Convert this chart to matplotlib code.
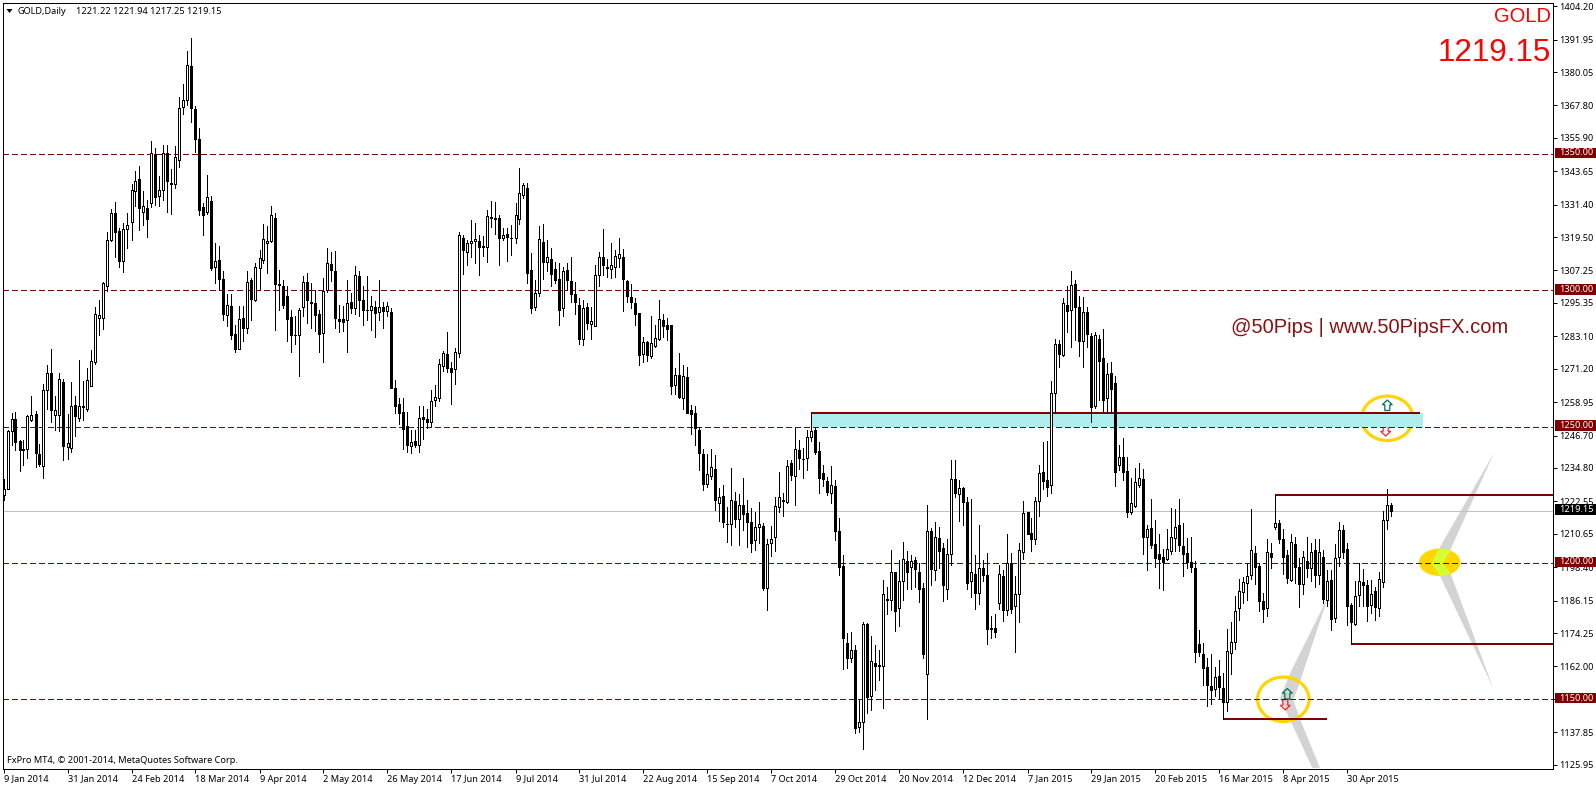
import matplotlib
matplotlib.use("Agg")
import matplotlib.pyplot as plt
from matplotlib.patches import Ellipse, Polygon, Rectangle
from matplotlib.transforms import blended_transform_factory

plt.rcParams['font.family'] = ['Noto Sans', 'DejaVu Sans']

opens = [
    1225, 1226.9, 1248.5, 1252.6, 1244.6, 1241.9, 1241.9, 1252.3, 1254.5, 1239.8,
    1235.6, 1263.3, 1269.5, 1254.3, 1254.3, 1266.5, 1242.5, 1242.2, 1257.8, 1253.3,
    1257.5, 1256.4, 1264.8, 1273.6, 1289.9, 1289.9, 1301.7, 1318.4, 1328.2, 1321.6,
    1310.8, 1322.6, 1324.9, 1336.4, 1340.8, 1328.6, 1330.2, 1331.9, 1350, 1334.5,
    1336.8, 1350.4, 1339.5, 1339, 1347.7, 1367.1, 1369.7, 1382.4, 1366.6, 1355.5,
    1330.5, 1328.6, 1332.7, 1308.4, 1311.1, 1304.1, 1290.9, 1294.3, 1284, 1278.4,
    1289.9, 1286, 1303.9, 1296.3, 1308, 1311.2, 1317.2, 1318.1, 1326.6, 1302.3,
    1301.7, 1298, 1290.1, 1283.7, 1283.4, 1293.7, 1303, 1295.7, 1295.3, 1291.4,
    1284.3, 1300, 1309.6, 1307.2, 1289.4, 1289.4, 1289.2, 1295.7, 1293.3, 1305.3,
    1296.5, 1292.7, 1292.6, 1293.9, 1291.9, 1293.8, 1292.2, 1292, 1264, 1258.1,
    1255.5, 1250.1, 1243, 1244.6, 1243.3, 1253.4, 1252.7, 1251.7, 1259.7, 1260.5,
    1272.3, 1276.6, 1271.3, 1271.2, 1277.1, 1319.1, 1314.2, 1317.2, 1317.9, 1318,
    1316.2, 1315.7, 1326.8, 1326.5, 1326.5, 1319.2, 1320.6, 1319.2, 1319, 1326.3,
    1334.8, 1337.5, 1307.4, 1294, 1299.1, 1317.6, 1310.5, 1311.4, 1307.7, 1304,
    1293.3, 1307.4, 1303.3, 1298.5, 1294.5, 1282.1, 1293.8, 1287.6, 1287, 1305.5,
    1312.1, 1308.6, 1307.7, 1308.7, 1312, 1312.1, 1303.3, 1297.5, 1295.2, 1291.5,
    1276.7, 1280.9, 1276, 1279.7, 1282.1, 1289.1, 1287.3, 1287.3, 1265.1, 1268.8,
    1260.5, 1268, 1256.2, 1255.1, 1248.9, 1239.8, 1229, 1231.7, 1234.6, 1221.9,
    1224.5, 1214.3, 1214.3, 1222.7, 1216.2, 1221.1, 1218.4, 1214.9, 1208.2, 1213,
    1213.5, 1190.6, 1207.1, 1209.3, 1220.6, 1222.9, 1222.2, 1236.5, 1231.8, 1241.3,
    1238.2, 1238.5, 1246, 1248.7, 1241, 1232.8, 1230.1, 1225.7, 1228.2, 1211.5,
    1198.9, 1170.6, 1165, 1168, 1139.9, 1141.7, 1177.6, 1151.1, 1163.3, 1162.7,
    1162.1, 1186.7, 1186.2, 1196.6, 1183.3, 1193.5, 1200.5, 1198.3, 1201.1, 1196.5,
    1190.7, 1159.1, 1211.6, 1197.4, 1209, 1205.4, 1190.4, 1203.4, 1230.7, 1225.4,
    1227.4, 1222.3, 1193.2, 1196, 1189.1, 1198.1, 1195.6, 1176.1, 1176.1, 1185.1,
    1195.2, 1182.8, 1199.8, 1184, 1188.5, 1204.1, 1218.8, 1210.9, 1208.7, 1222.8,
    1233.2, 1230.4, 1228.5, 1262.2, 1280.2, 1276.2, 1294.6, 1292.7, 1302.3, 1293.8,
    1281.2, 1291.9, 1283.1, 1257.6, 1282, 1275, 1260.6, 1269.6, 1265.9, 1235.9,
    1238.8, 1233.6, 1218.8, 1220.7, 1228.5, 1230.6, 1209.4, 1212.6, 1207, 1203.3,
    1202.2, 1201.5, 1204.3, 1209.1, 1214, 1206.3, 1203.7, 1200.4, 1198.2, 1170.2,
    1166.5, 1161.8, 1154.8, 1153.6, 1158.5, 1154, 1148.9, 1166.9, 1171, 1183.3,
    1189.2, 1192.5, 1195.5, 1203.7, 1198.8, 1186.1, 1183.3, 1203.5, 1213, 1214.5,
    1208.7, 1202.9, 1193.8, 1207, 1198.4, 1192.3, 1200.6, 1198.1, 1204.6, 1195.5,
    1202.3, 1186.5, 1193.8, 1179.6, 1202, 1212, 1205, 1184.6, 1177.7, 1188.2,
    1192.9, 1191.8, 1184.4, 1189.8, 1183.4, 1192.9, 1215.6, 1221.22,
]
closes = [
    1227.2, 1248.3, 1252.6, 1244.4, 1241.3, 1241.4, 1253.8, 1254.4, 1240.3, 1236.2,
    1263.3, 1269.8, 1256, 1255.9, 1267.3, 1242.9, 1243.8, 1257.5, 1253.9, 1257.5,
    1257.3, 1266.9, 1273.9, 1291.1, 1290.8, 1302.6, 1318.3, 1328.2, 1321.5, 1310.8,
    1322.3, 1323.8, 1336.9, 1340.1, 1330, 1330.9, 1326.1, 1350.4, 1334.1, 1336.8,
    1350.4, 1340, 1339, 1348.7, 1366.9, 1369.8, 1382.7, 1366.8, 1355.5, 1329.3,
    1327.5, 1334.2, 1308.3, 1310.7, 1304.1, 1291.1, 1294.7, 1283.4, 1278.4, 1289.4,
    1286.2, 1303.2, 1296.9, 1308.4, 1311.8, 1318.8, 1318.1, 1327.6, 1302.3, 1302.1,
    1294.4, 1289.4, 1283.4, 1283.6, 1292.7, 1303, 1296.3, 1295.2, 1291, 1283.8,
    1299.8, 1310, 1307.3, 1289.7, 1288.8, 1288.2, 1295.3, 1293.3, 1305.6, 1296.5,
    1292.8, 1292.6, 1294.3, 1291.6, 1293.9, 1292.2, 1294.3, 1264.3, 1257.6, 1255,
    1249.1, 1243.3, 1244.5, 1243.1, 1253.1, 1252.8, 1251.6, 1259.2, 1260.8, 1272.8,
    1276.8, 1271.6, 1270.1, 1277.2, 1320.2, 1314.6, 1317.3, 1317.9, 1318.8, 1316,
    1315.7, 1327.2, 1326.5, 1326.1, 1319, 1320.3, 1319.4, 1319, 1327.6, 1335.7,
    1338.7, 1306.5, 1293.6, 1298.9, 1318.8, 1310.5, 1312.1, 1306, 1303.8, 1292.8,
    1307, 1303.6, 1298.7, 1295.7, 1282.1, 1293.4, 1287.9, 1288.6, 1305.5, 1312.1,
    1309.1, 1308.1, 1309.2, 1312.5, 1313.2, 1304.3, 1298, 1295.5, 1291.4, 1276.3,
    1280.9, 1276.3, 1280.5, 1282.4, 1289.3, 1287, 1285.9, 1265, 1268.8, 1260.9,
    1268.4, 1255, 1254.7, 1249.3, 1240.3, 1228.9, 1232.7, 1235.2, 1223, 1224.1,
    1215.1, 1214.1, 1222.9, 1216.2, 1221.1, 1218, 1215, 1207.4, 1213.3, 1214.1,
    1190.7, 1206.8, 1208.7, 1220.9, 1224, 1222.7, 1235.4, 1232.2, 1241.6, 1238.5,
    1238, 1246, 1248.2, 1240.5, 1231.2, 1230.6, 1226.1, 1228.4, 1211.8, 1198.4,
    1172.4, 1165, 1168, 1139.5, 1141.6, 1177.6, 1150.7, 1163.9, 1162.1, 1162.2,
    1188.5, 1186.2, 1196.6, 1182.2, 1193.4, 1201.3, 1196.5, 1200.6, 1197.7, 1190.5,
    1166.7, 1211.6, 1197.8, 1209.5, 1204.5, 1191.7, 1203.3, 1230.7, 1225.7, 1227.3,
    1222.3, 1192.6, 1196.6, 1189.1, 1198.1, 1195.4, 1175.6, 1175.9, 1174.6, 1195.9,
    1182.6, 1199.9, 1183, 1188.5, 1204.6, 1218.2, 1210.7, 1208.7, 1222.8, 1232.8,
    1230.1, 1227.9, 1262.2, 1280.2, 1276.7, 1295.2, 1292.5, 1301.8, 1294, 1281.2,
    1291.9, 1284.1, 1257, 1283.5, 1274.2, 1259.8, 1269.2, 1263.8, 1233.5, 1238.8,
    1233.5, 1218.8, 1221.9, 1229.7, 1231.2, 1209.4, 1212.3, 1206.4, 1201.7, 1201.3,
    1200.2, 1205.1, 1209.6, 1213.2, 1206.5, 1203.4, 1200.2, 1198.4, 1167.2, 1167.2,
    1161.6, 1155, 1153.4, 1158.1, 1154.3, 1149.1, 1167.6, 1171, 1182.4, 1189.7,
    1193, 1195.3, 1204.8, 1198.4, 1185.9, 1183, 1203.9, 1202.3, 1214.5, 1208.7,
    1202.3, 1194.5, 1207.6, 1198.4, 1192.3, 1202.3, 1198.2, 1203.8, 1195.6, 1203.8,
    1186.8, 1193.5, 1179.4, 1201.7, 1212, 1204.1, 1184, 1178.2, 1187.7, 1193.3,
    1192, 1184, 1188.5, 1183.7, 1194, 1215.6, 1221.1, 1219.15,
]
highs = [
    1230.9, 1248.7, 1254.8, 1255.3, 1245, 1245, 1254.4, 1261.1, 1255.6, 1243.5,
    1265.5, 1272.5, 1278.6, 1261.1, 1269.8, 1267.6, 1254.5, 1266.3, 1261.1, 1274.4,
    1266.6, 1271.4, 1278, 1293.8, 1296.4, 1302.9, 1321.4, 1329.7, 1332.3, 1322.7,
    1324.8, 1328.2, 1339.1, 1343.8, 1345.7, 1336.4, 1333.2, 1354.9, 1352.2, 1342,
    1353.3, 1353.1, 1344.5, 1352.8, 1370.9, 1375.5, 1387.9, 1392.4, 1367.7, 1359.5,
    1332, 1342.3, 1334.5, 1317.3, 1316.1, 1306.9, 1298.7, 1298.7, 1287.3, 1294.1,
    1294.1, 1306.9, 1304.5, 1310, 1314.9, 1324.4, 1323.4, 1331, 1328.3, 1307.3,
    1303.9, 1301.4, 1292.8, 1290.4, 1293.5, 1305.1, 1306.3, 1302.6, 1300.2, 1292.8,
    1304.5, 1315.5, 1313.9, 1314.3, 1294.7, 1294.1, 1303.9, 1299, 1308.8, 1306.9,
    1301.4, 1305.3, 1297.7, 1295.9, 1303.6, 1295.5, 1295.5, 1293.5, 1267, 1260.3,
    1260.3, 1255.4, 1248.7, 1248.7, 1257.5, 1257.5, 1256.6, 1263.4, 1265.2, 1274.6,
    1277.8, 1284.6, 1273.8, 1278.7, 1321.4, 1320.3, 1318.5, 1325.9, 1324.6, 1320.3,
    1320, 1329.5, 1332.6, 1332.2, 1327.7, 1322.8, 1323, 1324, 1332, 1344.9,
    1339.3, 1339.3, 1313.6, 1303.8, 1323.4, 1324.4, 1318.5, 1315.4, 1310.5, 1309.9,
    1308.7, 1309.9, 1312.1, 1303.2, 1297.1, 1296.4, 1295.2, 1293.8, 1309.3, 1314.2,
    1322.4, 1311.4, 1317.5, 1314.6, 1319.1, 1315.1, 1303.8, 1302.2, 1297.1, 1291.5,
    1283, 1281.5, 1290.6, 1287.3, 1296.4, 1291.3, 1289.7, 1287.3, 1271.3, 1276.8,
    1272.5, 1271.7, 1257.8, 1257.5, 1249.9, 1241.9, 1240.1, 1241.9, 1239.5, 1227.6,
    1228.4, 1220.5, 1234.8, 1226, 1225.4, 1231, 1222.9, 1220, 1218.8, 1222.4,
    1214.5, 1208.7, 1213.5, 1224, 1233.2, 1225.5, 1237.7, 1237.9, 1249.3, 1245,
    1242, 1248.7, 1255, 1249.9, 1244.4, 1235.9, 1231.6, 1235.5, 1230.4, 1216.3,
    1202.9, 1174.3, 1174.6, 1170, 1149.6, 1178.3, 1177.9, 1173, 1170, 1168.2,
    1193.8, 1191.3, 1204.8, 1196.8, 1201.1, 1207.6, 1204.5, 1202.9, 1202.3, 1200,
    1192.6, 1221.2, 1212.7, 1214.8, 1213.3, 1207.2, 1208.7, 1237.9, 1237.9, 1230.4,
    1227.9, 1224.3, 1223.3, 1202.9, 1213.9, 1201.1, 1203.5, 1180.4, 1181.2, 1199.3,
    1197.4, 1210.6, 1203.5, 1195, 1207.2, 1222.8, 1218.8, 1216.3, 1224.3, 1235.9,
    1244.4, 1244.8, 1266.7, 1282, 1281.8, 1297.1, 1301.6, 1307.2, 1303.8, 1297.7,
    1297.4, 1294, 1284.2, 1284.6, 1283.6, 1285.7, 1273.2, 1273.8, 1268.6, 1243.3,
    1245.7, 1239, 1231.3, 1234.7, 1236.8, 1234.3, 1213.7, 1223.3, 1215.6, 1210.4,
    1204.9, 1212.3, 1220.2, 1219.6, 1223.5, 1214.7, 1209.2, 1209.6, 1200.6, 1175.5,
    1170.6, 1165.1, 1166.7, 1161.8, 1164.2, 1159.6, 1175.7, 1178.2, 1188, 1193.9,
    1194.9, 1200, 1219.9, 1206.1, 1199.8, 1188.9, 1208.7, 1207.2, 1224.7, 1215.7,
    1212.3, 1204.8, 1210.6, 1209.6, 1201.7, 1204.5, 1209.3, 1207.4, 1208.9, 1208.7,
    1204.8, 1197.4, 1197.4, 1207, 1214.9, 1213.9, 1207.2, 1185.2, 1193.2, 1199.9,
    1197.7, 1193.8, 1193.8, 1191.3, 1196.8, 1219.1, 1227.1, 1221.94,
]
lows = [
    1223.2, 1226.9, 1243.1, 1241.3, 1233.7, 1235.8, 1238.5, 1252.1, 1235.2, 1235.6,
    1231.2, 1256.4, 1251.7, 1248.7, 1248.4, 1237.6, 1238, 1240.7, 1246.5, 1252.1,
    1252.3, 1255.8, 1264.8, 1272.9, 1283.5, 1285.7, 1299.8, 1318.2, 1312.3, 1308.6,
    1306.8, 1315.6, 1318.3, 1331, 1322.2, 1323.8, 1319.4, 1330.4, 1331.2, 1330.8,
    1333.2, 1328.6, 1328, 1337.4, 1345.2, 1364.6, 1368, 1361.6, 1350.6, 1327.5,
    1320.1, 1328.1, 1307.5, 1302.6, 1300.2, 1288.9, 1286.7, 1282.1, 1277.5, 1278.4,
    1281.2, 1284.3, 1289.2, 1295.9, 1300.4, 1310, 1306.3, 1317.6, 1285.5, 1292.8,
    1293.5, 1281.5, 1277.2, 1280.4, 1268.4, 1290.4, 1288, 1286.1, 1284.9, 1277.2,
    1273.5, 1299.2, 1303.5, 1286.1, 1284.5, 1285.2, 1277.2, 1291.6, 1291.4, 1290.4,
    1287.3, 1288.9, 1285.5, 1283, 1289.2, 1286.1, 1290.4, 1264, 1255.1, 1250.9,
    1241.9, 1240.7, 1240.3, 1242.5, 1240.7, 1245.3, 1249.3, 1250.1, 1257.5, 1259.3,
    1270.5, 1269.9, 1258.2, 1265.6, 1275.6, 1306, 1309.3, 1312.1, 1309.9, 1305.6,
    1312.4, 1310.2, 1323.2, 1320.7, 1309.1, 1318.3, 1310.9, 1313, 1317.5, 1324.4,
    1333.7, 1302.8, 1291.8, 1292.8, 1297.7, 1304.2, 1307.2, 1301.7, 1302.8, 1287.3,
    1290.6, 1300.1, 1295.8, 1291.3, 1280.1, 1279.9, 1285.7, 1282.1, 1287, 1301.6,
    1305.6, 1304.8, 1304.4, 1305, 1308.7, 1292.2, 1295.5, 1293.4, 1287.3, 1272.5,
    1273.8, 1274.1, 1275, 1279.3, 1281.7, 1283, 1281.7, 1261.9, 1261.9, 1260.3,
    1256.6, 1254.8, 1247.4, 1243.1, 1233.9, 1226.8, 1227.8, 1230.9, 1219.2, 1215.3,
    1213.1, 1207.6, 1206.4, 1213.1, 1206.4, 1211.9, 1205.8, 1204.1, 1204.8, 1207.2,
    1190.1, 1182.8, 1202.6, 1204.5, 1218.8, 1217, 1222.1, 1230.4, 1221.2, 1234.6,
    1231, 1234, 1244.8, 1239.9, 1225.7, 1228.2, 1224.9, 1222.1, 1208.2, 1195.6,
    1160.9, 1161.5, 1163.5, 1137.7, 1137.9, 1131.8, 1145, 1146, 1153.5, 1157,
    1146.6, 1181.3, 1182.8, 1174.9, 1176.7, 1186.5, 1190.4, 1190.4, 1191.1, 1185.5,
    1165, 1142.6, 1191.7, 1193.8, 1198, 1185.9, 1186.8, 1199.3, 1224.3, 1215.5,
    1213.9, 1190.5, 1187.3, 1183.2, 1185, 1193.5, 1170.4, 1172.4, 1172.7, 1183.2,
    1178.5, 1181, 1181.6, 1167.2, 1178.2, 1201.5, 1210.7, 1204.5, 1207, 1217.3,
    1227.1, 1224.5, 1225.7, 1255, 1272, 1275.7, 1284.5, 1279.1, 1281.8, 1275.7,
    1272, 1279.3, 1251.8, 1256.7, 1259.8, 1255.5, 1255.5, 1255.5, 1228, 1234.1,
    1230.4, 1216.7, 1218, 1220.4, 1227.8, 1203.4, 1197.5, 1205.5, 1198.4, 1190.7,
    1190.2, 1201, 1203.4, 1204.3, 1204.3, 1195.3, 1198.2, 1196.6, 1163.5, 1165.7,
    1155, 1147.3, 1148.3, 1151.2, 1150, 1142.6, 1145.8, 1159.3, 1168.5, 1179.2,
    1185.3, 1186.5, 1194.2, 1192.4, 1182.2, 1178.2, 1180.6, 1198, 1212.4, 1207.2,
    1196, 1192.6, 1193.3, 1192.6, 1183.7, 1188.7, 1194.8, 1193.2, 1191.3, 1192.3,
    1185.2, 1184.3, 1175.2, 1178.2, 1198.7, 1201.7, 1177.1, 1170.1, 1177.3, 1184,
    1184, 1178.5, 1181.6, 1178.9, 1180.6, 1191, 1212.3, 1217.25,
]

date_labels = ['9 Jan 2014', '31 Jan 2014', '24 Feb 2014', '18 Mar 2014', '9 Apr 2014', '2 May 2014',
               '26 May 2014', '17 Jun 2014', '9 Jul 2014', '31 Jul 2014', '22 Aug 2014', '15 Sep 2014',
               '7 Oct 2014', '29 Oct 2014', '20 Nov 2014', '12 Dec 2014', '7 Jan 2015', '29 Jan 2015',
               '20 Feb 2015', '16 Mar 2015', '8 Apr 2015', '30 Apr 2015']
price_ticks = [1404.20, 1391.95, 1380.05, 1367.80, 1355.90, 1343.65, 1331.40, 1319.50, 1307.25, 1295.35,
               1283.10, 1271.20, 1258.95, 1246.70, 1234.80, 1222.55, 1210.65, 1198.40, 1186.15, 1174.25,
               1162.00, 1150.10, 1137.85, 1125.95]
levels = [1350, 1300, 1250, 1200, 1150]
last_price = 1219.15

MAROON = '#800000'
PX = 0.72  # one pixel in points at dpi 100
FONT = 6.6

fig = plt.figure(figsize=(15.96, 7.86), dpi=100, facecolor='white')

# under layer in pixel coordinates, for the hand drawn objects
bg = fig.add_axes([0, 0, 1, 1], zorder=0)
bg.set_xlim(0, 1596)
bg.set_ylim(786, 0)
bg.axis('off')

ax = fig.add_axes([2.5 / 1596, 1 - 768.5 / 786, 1551 / 1596, 766 / 786], zorder=1, facecolor='none')
ax.set_xlim(-0.25, 387.5)
ax.set_ylim(1124.55, 1405.55)

"""Drawn objects"""
grey = '#D3D3D3'
right_shape = [(1494.3, 452.3), (1450.3, 550), (1443.3, 562.7), (1450.7, 574), (1493.3, 688.3),
               (1440, 576), (1431.7, 562.7), (1439.3, 548.3)]
left_shape = [(1328, 597), (1298.3, 686.7), (1293.3, 700), (1301.7, 723.3), (1320, 768),
              (1312.3, 768), (1291.7, 723.3), (1280, 698.3), (1290, 673.3)]
bg.add_patch(Polygon(left_shape, closed=True, fc=grey, ec='none'))
bg.add_patch(Polygon(right_shape, closed=True, fc=grey, ec='none'))

blob = Ellipse((1439.7, 562.3), 41.4, 27.4, fc='#FFD700', ec='none')
bg.add_patch(blob)
overlap = Polygon(right_shape, closed=True, fc='#D4FF33', ec='none')
bg.add_patch(overlap)
overlap.set_clip_path(blob)

for cx, cy in [(1387.3, 418.3), (1283.3, 699.3)]:
    bg.add_patch(Ellipse((cx, cy), 51.5, 44.5, fc='none', ec='#FFD400', lw=2.3))


def block_arrow(cx, top, bottom, up, colour):
    h = bottom - top
    if up:
        pts = [(cx, top), (cx + 5, top + h * 0.45), (cx + 2.5, top + h * 0.45), (cx + 2.5, bottom),
               (cx - 2.5, bottom), (cx - 2.5, top + h * 0.45), (cx - 5, top + h * 0.45)]
    else:
        pts = [(cx, bottom), (cx + 5, bottom - h * 0.45), (cx + 2.5, bottom - h * 0.45), (cx + 2.5, top),
               (cx - 2.5, top), (cx - 2.5, bottom - h * 0.45), (cx - 5, bottom - h * 0.45)]
    bg.add_patch(Polygon(pts, closed=True, fc='none', ec=colour, lw=0.9))


block_arrow(1387.3, 400, 410.5, True, '#00705A')
block_arrow(1385.7, 425.5, 436, False, '#FF2020')
block_arrow(1287.3, 688.5, 699, True, '#00705A')
block_arrow(1285.3, 699.5, 710, False, '#FF2020')

# top left triangle of the chart window
bg.add_patch(Polygon([(6.5, 9), (12.5, 9), (9.5, 13)], closed=True, fc='black', ec='none'))

"""Levels and zones"""
ax.axhspan(1249.8, 1255, xmin=(202 + 0.25) / 387.75, xmax=(354.8 + 0.25) / 387.75, color='#AFEEEE', lw=0, zorder=1)
for level in levels:
    ax.axhline(level, color=MAROON, lw=PX, linestyle=(0, (5.5, 3.5)), antialiased=False, zorder=1.5)
ax.axhline(last_price, color='#C0C0C0', lw=PX, antialiased=False, zorder=1.5)
ax.hlines(1255.1, 202, 354.2, color=MAROON, lw=PX * 2, zorder=1.6)
ax.hlines(1224.7, 318, 387.5, color=MAROON, lw=PX * 2, zorder=1.6)
ax.hlines(1170.1, 337, 387.5, color=MAROON, lw=PX * 2, zorder=1.6)
ax.hlines(1142.6, 305, 331, color=MAROON, lw=PX * 2, zorder=1.6)

"""Candles"""
xs = list(range(len(opens)))
ax.vlines(xs, lows, highs, color='black', lw=PX, antialiased=False, zorder=2)
for i in xs:
    bottom = min(opens[i], closes[i])
    height = abs(closes[i] - opens[i])
    face = 'white' if closes[i] >= opens[i] else 'black'
    ax.bar(i, height, bottom=bottom, width=0.5, facecolor=face, edgecolor='black', linewidth=PX,
           antialiased=False, zorder=3)

"""Axes"""
for spine in ax.spines.values():
    spine.set_linewidth(PX)
ax.yaxis.tick_right()
ax.set_yticks(price_ticks)
ax.set_yticklabels(['%.2f' % p for p in price_ticks])
ax.set_xticks(range(0, 16 * len(date_labels), 16))
ax.set_xticklabels(date_labels, ha='left')
ax.tick_params(axis='both', length=2.9, width=PX, labelsize=FONT, color='black')
ax.tick_params(axis='y', pad=1.2)
ax.tick_params(axis='x', pad=1.5)

# price boxes over the axis labels
box_trans = blended_transform_factory(ax.transAxes, ax.transData)


def price_box(price, colour):
    ax.add_patch(Rectangle((1.00097, price - 1.6), 0.0265, 3.9, transform=box_trans, fc=colour, ec='none',
                           clip_on=False, zorder=5))
    ax.text(1.00355, price + 0.35, '%.2f' % price, transform=box_trans, color='white', fontsize=FONT,
            va='center', ha='left', clip_on=False, zorder=6)


for level in levels:
    price_box(level, MAROON)
price_box(last_price, 'black')

"""Texts"""
def px_text(x, y, s, **kw):
    fig.text(x / 1596, 1 - y / 786, s, **kw)


px_text(18, 11, 'GOLD,Daily', fontsize=FONT, va='center', ha='left', zorder=5)
px_text(76, 11, '1221.22 1221.94 1217.25 1219.15', fontsize=FONT, va='center', ha='left', zorder=5)
px_text(7, 760.5, 'FxPro MT4, © 2001-2014, MetaQuotes Software Corp.', fontsize=FONT, va='center', ha='left', zorder=5)
px_text(1551, 16, 'GOLD', color='red', fontsize=14.5, family='Liberation Sans', va='center', ha='right', zorder=5)
px_text(1551, 53, '1219.15', color='red', fontsize=22.6, family='Liberation Sans', va='center', ha='right', zorder=5)
px_text(1231, 328, '@50Pips | www.50PipsFX.com', color='#8B1010', fontsize=14.5, family='Liberation Sans',
        va='center', ha='left', zorder=5)

fig.savefig('out.png', dpi=100)
